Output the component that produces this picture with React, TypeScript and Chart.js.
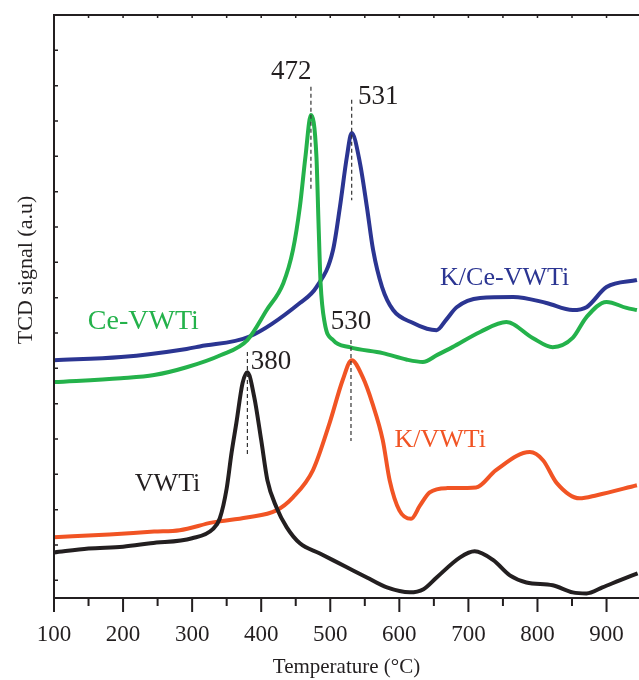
import React, { useEffect, useRef } from "react";
import { Chart, registerables } from "chart.js";

Chart.register(...registerables);

// ---- data (temperature in °C, TCD signal in arbitrary units) ----
const xTickValues = [100, 200, 300, 400, 500, 600, 700, 800, 900];
const xMinorValues = [150, 250, 350, 450, 550, 650, 750, 850];

const vwtiT = [100, 150, 200, 240, 300, 330, 340, 350, 357, 364, 373, 380, 390, 400, 409, 422, 437, 456, 485, 524, 553, 582, 615, 635, 654, 688, 709, 736, 760, 784, 822, 851, 871, 894, 919, 945];
const vwtiS = [0.79, 0.9, 0.95, 1.05, 1.19, 1.45, 1.75, 2.6, 3.6, 4.45, 5.58, 5.89, 5.18, 3.97, 2.83, 2.07, 1.5, 1.05, 0.76, 0.37, 0.08, -0.2, -0.34, -0.25, 0.08, 0.65, 0.82, 0.57, 0.14, -0.06, -0.14, -0.34, -0.37, -0.2, 0.0, 0.2];

const kvwtiT = [100, 180, 245, 282, 330, 379, 422, 446, 475, 499, 518, 531, 547, 561, 576, 586, 600, 617, 630, 644, 669, 711, 740, 789, 808, 828, 861, 886, 944];
const kvwtiS = [1.22, 1.3, 1.38, 1.42, 1.64, 1.78, 1.98, 2.35, 3.12, 4.45, 5.67, 6.23, 5.75, 5.01, 3.97, 2.83, 1.98, 1.74, 2.12, 2.49, 2.61, 2.63, 3.12, 3.63, 3.4, 2.75, 2.32, 2.41, 2.69];

const ceT = [100, 197, 245, 292, 341, 380, 408, 432, 446, 456, 464, 472, 480, 483, 486, 492, 504, 528, 576, 610, 634, 655, 677, 717, 755, 793, 822, 851, 871, 900, 929, 944];
const ceS = [5.61, 5.72, 5.81, 6.03, 6.37, 6.8, 7.65, 8.41, 9.35, 10.57, 11.98, 13.17, 11.98, 10.11, 8.41, 7.28, 6.8, 6.6, 6.43, 6.25, 6.18, 6.38, 6.6, 7.03, 7.31, 6.86, 6.6, 6.86, 7.45, 7.88, 7.71, 7.65];

const kceT = [100, 197, 292, 311, 383, 456, 480, 504, 514, 524, 531, 543, 553, 562, 575, 591, 620, 640, 654, 668, 683, 717, 765, 813, 851, 871, 900, 944];
const kceS = [6.23, 6.32, 6.55, 6.62, 6.9, 7.85, 8.3, 9.35, 10.57, 11.98, 12.66, 11.81, 10.57, 9.35, 8.3, 7.65, 7.28, 7.12, 7.08, 7.38, 7.73, 7.99, 8.02, 7.85, 7.65, 7.73, 8.3, 8.5];

const seriesNames = ["VWTi", "K/VWTi", "Ce-VWTi", "K/Ce-VWTi"];
const seriesColors = ["#231f20", "#f15424", "#24b24b", "#2b3592"];
// series label anchor positions (temperature, signal)
const seriesLabelT = [217, 593, 149, 659];
const seriesLabelS = [2.72, 3.97, 7.31, 8.56];
const seriesLabelSize = [26, 26, 28, 26];

// peak markers
const peakT = [472, 531, 530, 380];
const peakLineTop = [13.97, 13.6, 6.8, 6.46];
const peakLineBottom = [11.05, 10.76, 3.94, 3.54];
const peakText = ["472", "531", "530", "380"];
const peakTextT = [473, 540, 530, 385];
const peakTextS = [14.39, 13.68, 7.31, 6.18];
const peakTextAlign: CanvasTextAlign[] = ["right", "left", "center", "left"];

const FONT = "'Liberation Serif', 'Times New Roman', serif";
const AXIS = "#231f20";

function pts(t: number[], s: number[]) {
  return t.map((x, i) => ({ x, y: s[i] }));
}

const decorPlugin = {
  id: "decor",
  afterDatasetsDraw(chart: any) {
    const { ctx, chartArea, scales } = chart;
    const xs = scales.x;
    const ys = scales.y;
    const { left, right, top, bottom } = chartArea;
    ctx.save();
    // frame
    ctx.strokeStyle = AXIS;
    ctx.lineWidth = 2;
    ctx.beginPath();
    ctx.moveTo(right, top);
    ctx.lineTo(left, top);
    ctx.lineTo(left, bottom);
    ctx.lineTo(right, bottom);
    ctx.stroke();
    // bottom ticks (outward)
    ctx.beginPath();
    xTickValues.forEach((v) => {
      const px = xs.getPixelForValue(v);
      ctx.moveTo(px, bottom);
      ctx.lineTo(px, bottom + 14);
    });
    xMinorValues.forEach((v) => {
      const px = xs.getPixelForValue(v);
      ctx.moveTo(px, bottom);
      ctx.lineTo(px, bottom + 8);
    });
    ctx.stroke();
    // top ticks (inward, small)
    ctx.lineWidth = 1.5;
    ctx.beginPath();
    [...xTickValues, ...xMinorValues].forEach((v) => {
      const px = xs.getPixelForValue(v);
      ctx.moveTo(px, top);
      ctx.lineTo(px, top + 3);
    });
    ctx.stroke();
    // left ticks (inward)
    ctx.beginPath();
    for (let v = 0; v <= 16; v++) {
      const py = ys.getPixelForValue(v);
      ctx.moveTo(left, py);
      ctx.lineTo(left + 4, py);
    }
    ctx.stroke();

    // peak dashed lines
    ctx.strokeStyle = "#333";
    ctx.lineWidth = 1.2;
    ctx.setLineDash([4, 3]);
    peakT.forEach((t, i) => {
      const px = xs.getPixelForValue(t);
      ctx.beginPath();
      ctx.moveTo(px, ys.getPixelForValue(peakLineTop[i]));
      ctx.lineTo(px, ys.getPixelForValue(peakLineBottom[i]));
      ctx.stroke();
    });
    ctx.setLineDash([]);

    // peak labels
    ctx.fillStyle = AXIS;
    ctx.font = `27px ${FONT}`;
    ctx.textBaseline = "middle";
    peakText.forEach((txt, i) => {
      ctx.textAlign = peakTextAlign[i];
      ctx.fillText(txt, xs.getPixelForValue(peakTextT[i]), ys.getPixelForValue(peakTextS[i]));
    });

    // series labels
    ctx.textAlign = "left";
    seriesNames.forEach((name, i) => {
      ctx.font = `${seriesLabelSize[i]}px ${FONT}`;
      ctx.fillStyle = seriesColors[i];
      ctx.fillText(name, xs.getPixelForValue(seriesLabelT[i]), ys.getPixelForValue(seriesLabelS[i]));
    });

    // y axis title
    ctx.fillStyle = AXIS;
    ctx.font = `22px ${FONT}`;
    ctx.translate(26, 270);
    ctx.rotate(-Math.PI / 2);
    ctx.textAlign = "center";
    ctx.fillText("TCD signal (a.u)", 0, 0);
    ctx.restore();
  },
};

export default function App() {
  const ref = useRef<HTMLCanvasElement | null>(null);
  useEffect(() => {
    if (!ref.current) return;
    const allT = [vwtiT, kvwtiT, ceT, kceT];
    const allS = [vwtiS, kvwtiS, ceS, kceS];
    const chart = new Chart(ref.current, {
      type: "line",
      data: {
        datasets: seriesNames.map((name, i) => ({
          label: name,
          data: pts(allT[i], allS[i]),
          borderColor: seriesColors[i],
          backgroundColor: seriesColors[i],
          borderWidth: 4,
          pointRadius: 0,
          cubicInterpolationMode: "monotone" as const,
          fill: false,
        })),
      },
      options: {
        animation: false,
        responsive: false,
        layout: { padding: { top: 15, right: 0, left: 0, bottom: 0 } },
        plugins: { legend: { display: false }, tooltip: { enabled: false } },
        scales: {
          x: {
            type: "linear",
            min: 100,
            max: 947,
            grid: { display: false },
            border: { display: false },
            afterBuildTicks: (scale: any) => {
              scale.ticks = xTickValues.map((v) => ({ value: v }));
            },
            afterFit: (scale: any) => {
              scale.height = 82;
              scale.paddingRight = 0;
            },
            ticks: {
              padding: 15,
              color: AXIS,
              maxRotation: 0,
              autoSkip: false,
              font: { family: FONT, size: 23 },
            },
            title: {
              display: true,
              text: "Temperature (°C)",
              color: AXIS,
              font: { family: FONT, size: 21 },
              padding: { top: 0, bottom: 0 },
            },
          },
          y: {
            type: "linear",
            min: -0.5,
            max: 16,
            grid: { display: false },
            border: { display: false },
            ticks: { display: false },
            afterFit: (scale: any) => {
              scale.width = 54;
            },
          },
        },
      },
      plugins: [decorPlugin],
    });
    return () => chart.destroy();
  }, []);
  return (
    <div style={{ position: "fixed", left: 0, top: 0, width: 639, height: 680, background: "#fff" }}>
      <canvas ref={ref} width={639} height={680} style={{ display: "block" }} />
    </div>
  );
}
